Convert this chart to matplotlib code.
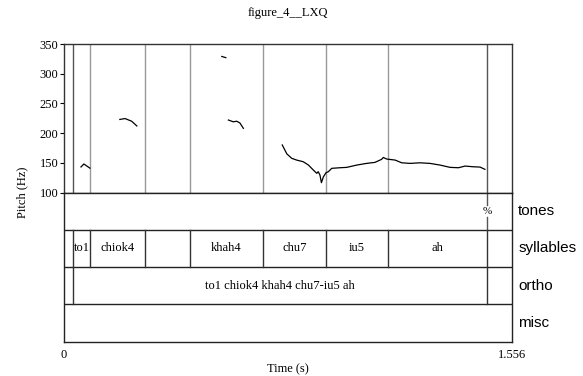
import numpy as np
import matplotlib.pyplot as plt

plt.rcParams['font.family'] = ['Liberation Serif', 'DejaVu Serif']

T_END = 1.556

# pitch track pieces (time s, Hz)
seg1_t = [0.059, 0.069, 0.090]
seg1_f = [143, 148, 141]
seg2_t = [0.194, 0.212, 0.235, 0.253]
seg2_f = [223, 224.5, 220, 212]
seg3_t = [0.548, 0.562]
seg3_f = [329, 327]
seg4_t = [0.571, 0.588, 0.600, 0.611, 0.623]
seg4_f = [222, 219, 220, 217, 208]
seg5_t = [0.758, 0.774, 0.791, 0.808, 0.831, 0.849, 0.866, 0.878, 0.883, 0.889,
          0.894, 0.901, 0.910, 0.918, 0.930, 0.959, 0.982, 1.017, 1.051, 1.080,
          1.103, 1.109, 1.121, 1.150, 1.173, 1.202, 1.236, 1.271, 1.306, 1.341,
          1.370, 1.393, 1.422, 1.445, 1.462]
seg5_f = [180, 165, 157.5, 154.6, 151.8, 146.2, 137.8, 132.3, 135, 129.4,
          116.5, 126.5, 133.3, 135, 140.7, 141.7, 142.3, 146.2, 149, 150.7,
          155.8, 159, 156.3, 154.6, 150, 149, 150, 149, 146.2, 142.3,
          141.7, 144.5, 143.3, 142.8, 139]
segments = [(seg1_t, seg1_f), (seg2_t, seg2_f), (seg3_t, seg3_f),
            (seg4_t, seg4_f), (seg5_t, seg5_f)]

# tiers
syl_bounds = [0.031, 0.090, 0.281, 0.438, 0.691, 0.910, 1.125, 1.469]
syl_labels = ["to1", "chiok4", "", "khah4", "chu7", "iu5", "ah"]
ortho_bounds = [0.031, 1.469]
ortho_label = "to1 chiok4 khah4 chu7-iu5 ah"
tone_points = [1.469]
tone_labels = ["%"]
tier_names = ["tones", "syllables", "ortho", "misc"]

W, H = 583, 376
fig = plt.figure(figsize=(W / 100, H / 100), dpi=100)
left = 64 / W
width = 448 / W
ax = fig.add_axes([left, 1 - 192.5 / H, width, (192.5 - 44) / H])
tx = fig.add_axes([left, 1 - 341.7 / H, width, (341.7 - 192.5) / H])

for t, f in segments:
    ax.plot(t, f, color='black', lw=0.9)
for b in syl_bounds:
    dark = b in ortho_bounds
    ax.axvline(b, color='#555555' if dark else '#999999', lw=1.0, zorder=0)
ax.set_xlim(0, T_END)
ax.set_ylim(100, 350)
ax.set_yticks([100, 150, 200, 250, 300, 350])
ax.tick_params(axis='y', labelsize=9, length=3, width=0.8, pad=1)
ax.set_xticks([])
ax.set_ylabel("Pitch (Hz)", fontsize=9)
ax.yaxis.set_label_coords(-0.079, 0.0)
for s in ax.spines.values():
    s.set_color('#333333')
    s.set_linewidth(1.0)
ax.set_title("figure_4__LXQ", fontsize=9, pad=20)

# tier panel, tiers from top: tones(3-4), syllables(2-3), ortho(1-2), misc(0-1)
tx.set_xlim(0, T_END)
tx.set_ylim(0, 4)
for y in [1, 2, 3]:
    tx.axhline(y, color='#222222', lw=1.0)
for s in tx.spines.values():
    s.set_color('#222222')
    s.set_linewidth(1.0)

for p, lab in zip(tone_points, tone_labels):
    tx.plot([p, p], [3, 3.33], color='#555555', lw=1.0)
    tx.plot([p, p], [3.67, 4], color='#555555', lw=1.0)
    tx.text(p, 3.5, lab, ha='center', va='center', fontsize=8)

for b in syl_bounds:
    tx.plot([b, b], [2, 3], color='#333333', lw=1.0)
for a, b, lab in zip(syl_bounds[:-1], syl_bounds[1:], syl_labels):
    tx.text((a + b) / 2, 2.5, lab, ha='center', va='center', fontsize=9)

for b in ortho_bounds:
    tx.plot([b, b], [1, 2], color='#333333', lw=1.0)
tx.text((ortho_bounds[0] + ortho_bounds[1]) / 2, 1.5, ortho_label,
        ha='center', va='center', fontsize=9)

for i, name in enumerate(tier_names):
    tx.text(1.014, (3.5 - i) / 4, name, transform=tx.transAxes,
            ha='left', va='center', fontsize=11,
            family=['Liberation Sans', 'DejaVu Sans'])

tx.set_yticks([])
tx.set_xticks([0, T_END])
tx.set_xticklabels(["0", "1.556"])
tx.tick_params(axis='x', length=0, labelsize=9, pad=5)
tx.set_xlabel("Time (s)", fontsize=9, labelpad=2)

fig.savefig("out.png", dpi=100)
